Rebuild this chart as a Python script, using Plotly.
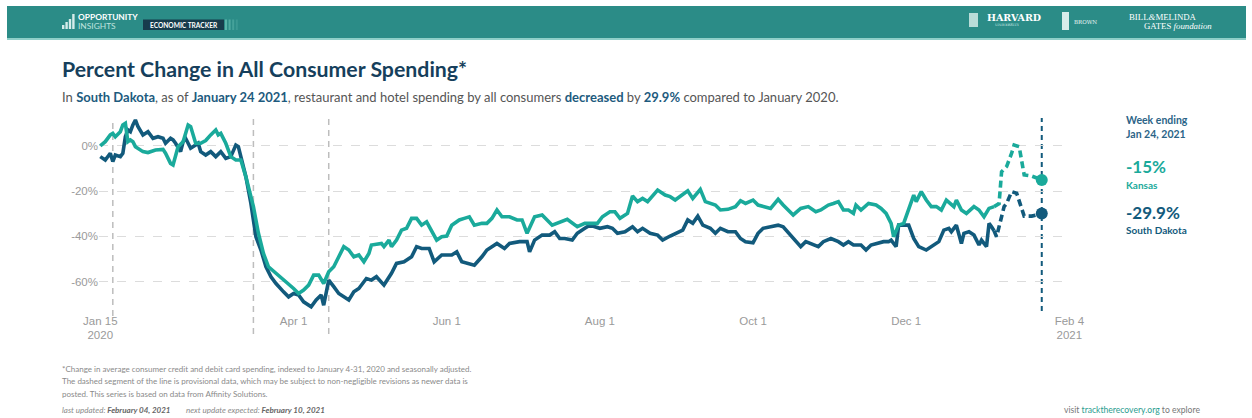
import pandas as pd
import plotly.graph_objects as go

# ---------------- data ----------------
BASE = pd.Timestamp("2020-01-15")

kansas_days = [
    0, 2, 4, 5, 6, 8, 9, 10, 11, 12,
    13, 14, 17, 19, 22, 25, 26, 28, 29, 31,
    33, 35, 36, 38, 40, 42, 44, 46, 47, 48,
    50, 52, 54, 56, 58, 61, 63, 65, 67, 70,
    73, 75, 77, 79, 81, 83, 85, 87, 89, 91,
    93, 95, 97, 99, 101, 103, 105, 107, 108, 112,
    113, 115, 116, 118, 120, 122, 124, 126, 128, 130,
    134, 136, 138, 140, 143, 145, 147, 149, 152, 154,
    156, 158, 160, 163, 166, 168, 170, 173, 176, 180,
    182, 186, 190, 193, 195, 198, 200, 203, 205, 207,
    210, 212, 214, 216, 218, 222, 225, 227, 229, 231,
    234, 236, 239, 241, 243, 245, 247, 250, 253, 255,
    257, 260, 262, 265, 267, 270, 272, 276, 279, 282,
    285, 287, 290, 292, 294, 296, 298, 300, 301, 303,
    306, 309, 311, 313, 315, 316, 318, 320, 322, 324,
    325, 327, 329, 331, 333, 335, 337, 340, 341, 343,
    345, 348, 350, 352, 354, 356,
]
kansas_pct = [
    0.0, 1.9, 4.9, 5.6, 4.1, 6.3, 9.3, 10.0, 1.9, 2.7,
    1.9, -0.3, -2.5, -2.9, -1.8, -1.5, -3.2, -7.7, -8.4, -0.3,
    1.9, 9.3, 8.6, 1.2, 1.2, 2.4, 4.9, 7.1, 4.9, 5.6,
    1.2, -4.7, -6.2, -6.2, -13.6, -26.8, -38.6, -47.5, -53.4, -56.3,
    -59.3, -60.8, -63.0, -65.2, -63.7, -61.5, -57.1, -57.1, -60.8, -55.6,
    -53.4, -49.0, -44.5, -46.0, -49.0, -48.2, -51.2, -47.5, -43.8, -43.1,
    -44.5, -41.6, -44.5, -41.6, -37.2, -36.4, -32.0, -32.0, -35.0, -33.5,
    -41.6, -40.1, -39.8, -35.0, -32.7, -32.0, -31.3, -35.0, -34.2, -34.2,
    -32.0, -28.3, -31.3, -31.3, -32.7, -32.7, -38.6, -31.3, -30.5, -35.0,
    -34.2, -32.4, -35.7, -34.2, -34.2, -34.2, -31.3, -29.1, -29.1, -32.0,
    -29.8, -22.1, -24.6, -23.2, -24.6, -19.5, -21.7, -22.4, -23.9, -22.4,
    -19.8, -23.2, -19.2, -24.6, -25.4, -26.1, -28.3, -28.0, -26.8, -24.2,
    -25.4, -23.9, -26.1, -26.8, -27.6, -23.6, -26.1, -30.5, -27.6, -26.8,
    -29.1, -28.3, -26.1, -25.4, -24.6, -28.3, -28.3, -29.8, -26.1, -28.3,
    -25.4, -26.1, -27.6, -29.8, -34.2, -40.1, -35.0, -34.2, -28.3, -21.7,
    -24.6, -20.2, -23.9, -26.8, -26.8, -28.3, -23.9, -26.8, -23.9, -28.3,
    -29.8, -26.8, -28.3, -31.3, -27.6, -26.8,
]
kansas_prov_days = [356, 358, 359, 361, 363, 364, 366, 368, 371, 373, 375]
kansas_prov_pct = [-26.8, -25.5, -11.4, -9.1, -3.2, 0.4, -0.3, -12.8, -13.3, -14.3, -15.0]

sd_days = [
    0, 2, 4, 5, 6, 8, 9, 10, 11, 12,
    13, 14, 15, 17, 19, 21, 23, 25, 26, 28,
    29, 30, 32, 33, 34, 36, 38, 39, 40, 42,
    44, 46, 48, 50, 52, 54, 55, 56, 58, 60,
    61, 62, 64, 66, 68, 70, 73, 75, 77, 79,
    81, 84, 86, 88, 89, 91, 93, 95, 99, 101,
    103, 106, 108, 110, 113, 116, 118, 121, 124, 126,
    128, 131, 133, 136, 140, 142, 144, 146, 149, 152,
    154, 158, 161, 163, 167, 170, 171, 173, 176, 179,
    181, 183, 185, 188, 190, 193, 195, 197, 199, 202,
    204, 206, 209, 212, 214, 216, 219, 222, 224, 227,
    229, 232, 234, 236, 238, 240, 243, 245, 247, 250,
    253, 255, 257, 260, 262, 264, 267, 270, 272, 275,
    278, 279, 281, 284, 286, 288, 291, 294, 296, 298,
    300, 303, 305, 307, 309, 312, 314, 315, 317, 318,
    320, 322, 324, 326, 329, 331, 334, 336, 338, 339,
    341, 343, 344, 346, 348, 350, 351, 353, 354, 355,
    356,
]
sd_pct = [
    -4.7, -6.2, -3.2, -6.9, -4.0, -4.7, -3.2, 4.1, 7.1, 6.3,
    9.3, 11.5, 8.6, 4.9, 6.3, 3.4, 4.1, 3.4, 1.2, 3.4,
    2.7, 1.2, -2.5, 1.9, 3.4, -1.0, 0.4, 1.2, -2.5, -4.0,
    -2.5, -4.7, -2.5, -5.5, -4.7, 0.4, -0.3, -4.7, -13.6, -25.4,
    -34.2, -40.1, -46.0, -53.4, -57.8, -60.8, -64.5, -66.7, -65.2, -65.9,
    -68.9, -71.1, -68.1, -65.9, -70.4, -59.3, -62.2, -65.2, -68.1, -64.5,
    -63.0, -58.6, -59.3, -57.8, -61.5, -56.3, -51.9, -51.2, -49.0, -44.5,
    -45.3, -45.3, -51.2, -48.2, -48.2, -46.8, -51.2, -51.9, -52.7, -49.0,
    -46.0, -43.1, -45.3, -43.1, -42.3, -42.3, -46.8, -41.6, -39.4, -39.4,
    -37.9, -40.9, -40.9, -41.6, -38.6, -36.4, -35.0, -35.7, -36.4, -35.7,
    -36.4, -38.6, -37.9, -35.7, -37.9, -36.4, -38.6, -39.4, -41.6, -39.8,
    -38.6, -37.2, -32.7, -34.2, -31.0, -35.0, -36.4, -38.6, -36.4, -37.9,
    -37.9, -40.9, -42.3, -42.8, -38.6, -36.4, -35.7, -35.0, -35.7, -39.4,
    -43.1, -44.5, -42.3, -43.8, -44.5, -42.3, -40.9, -42.3, -43.8, -42.3,
    -43.8, -43.8, -46.0, -43.8, -43.1, -42.3, -42.3, -41.6, -44.5, -35.0,
    -35.0, -35.0, -40.9, -44.5, -46.0, -44.5, -42.3, -37.2, -36.4, -37.9,
    -35.0, -43.1, -38.6, -37.9, -39.4, -43.8, -41.6, -44.5, -34.2, -35.7,
    -37.5,
]
sd_prov_days = [356, 357, 359, 360, 361, 363, 365, 367, 368, 371, 375]
sd_prov_pct = [-37.5, -40.1, -31.3, -26.8, -25.4, -20.2, -20.9, -28.3, -31.0, -31.0, -29.9]

event_dates = ["2020-01-20", "2020-03-16", "2020-04-15"]
latest_date = "2021-01-24"
latest_kansas = -15.0
latest_sd = -29.9

tick_dates = ["2020-01-15", "2020-04-01", "2020-06-01", "2020-08-01",
              "2020-10-01", "2020-12-01", "2021-02-04"]
tick_labels = ["Jan 15<br>2020", "Apr 1", "Jun 1", "Aug 1", "Oct 1", "Dec 1", "Feb 4<br>2021"]
y_ticks = [0, -20, -40, -60]
y_tick_labels = ["0%", "-20%", "-40%", "-60%"]

# ---------------- style ----------------
TEAL = "#1aaa9b"
DARK = "#125a7c"
HEADER = "#2b8c87"
FONT = "Lato"

W, H = 1252, 418
X0, X1 = 99, 1070
Y0, Y1 = 115, 312


def pxx(x):
    return (x - X0) / (X1 - X0)


def pyy(y):
    return (Y1 - y) / (Y1 - Y0)


def to_dates(days):
    return [BASE + pd.Timedelta(days=d) for d in days]


fig = go.Figure()

line_w = 3.6
fig.add_trace(go.Scatter(x=to_dates(sd_days), y=sd_pct, mode="lines",
                         line=dict(color=DARK, width=line_w), hoverinfo="skip"))
fig.add_trace(go.Scatter(x=to_dates(sd_prov_days), y=sd_prov_pct, mode="lines",
                         line=dict(color=DARK, width=line_w, dash="7px,4px"), hoverinfo="skip"))
fig.add_trace(go.Scatter(x=to_dates(kansas_days), y=kansas_pct, mode="lines",
                         line=dict(color=TEAL, width=line_w), hoverinfo="skip"))
fig.add_trace(go.Scatter(x=to_dates(kansas_prov_days), y=kansas_prov_pct, mode="lines",
                         line=dict(color=TEAL, width=line_w, dash="7px,4px"), hoverinfo="skip"))
fig.add_trace(go.Scatter(x=[latest_date], y=[latest_kansas], mode="markers",
                         marker=dict(color=TEAL, size=12), hoverinfo="skip"))
fig.add_trace(go.Scatter(x=[latest_date], y=[latest_sd], mode="markers",
                         marker=dict(color=DARK, size=12), hoverinfo="skip"))

shapes = []
event_bottoms = [316, 334, 334]
for d, yb in zip(event_dates, event_bottoms):
    shapes.append(dict(type="line", xref="x", yref="paper", x0=d, x1=d,
                       y0=pyy(yb), y1=pyy(118),
                       line=dict(color="#bdbdbd", width=1.5, dash="6px,5px"), layer="below"))
shapes.append(dict(type="line", xref="x", yref="paper", x0=latest_date, x1=latest_date,
                   y0=pyy(311), y1=pyy(118),
                   line=dict(color=DARK, width=2, dash="5px,4px"), layer="below"))

# header band
shapes.append(dict(type="rect", xref="paper", yref="paper", x0=pxx(7), x1=pxx(1246),
                   y0=pyy(38), y1=pyy(6), fillcolor=HEADER, line=dict(width=0), layer="below"))
shapes.append(dict(type="rect", xref="paper", yref="paper", x0=pxx(7), x1=pxx(1246),
                   y0=pyy(40), y1=pyy(38), fillcolor="#8fcfc8", line=dict(width=0), layer="below"))
# Opportunity Insights icon
for i, top in enumerate([25, 22, 19, 14]):
    xl = 62 + i * 3.4
    shapes.append(dict(type="rect", xref="paper", yref="paper", x0=pxx(xl), x1=pxx(xl + 2.4),
                       y0=pyy(29), y1=pyy(top), fillcolor="#d5ecea", line=dict(width=0)))
# Economic tracker box
shapes.append(dict(type="rect", xref="paper", yref="paper", x0=pxx(143), x1=pxx(224),
                   y0=pyy(30), y1=pyy(19.5), fillcolor="#173c4c", line=dict(width=0)))
for i in range(4):
    xl = 225 + i * 3.6
    shapes.append(dict(type="rect", xref="paper", yref="paper", x0=pxx(xl), x1=pxx(xl + 2),
                       y0=pyy(30), y1=pyy(19.5), fillcolor="#5fb8ae",
                       opacity=0.9 - i * 0.2, line=dict(width=0)))
# Harvard shield & Brown icon
shapes.append(dict(type="rect", xref="paper", yref="paper", x0=pxx(969), x1=pxx(978),
                   y0=pyy(27), y1=pyy(13), fillcolor="#b9dcd8", line=dict(width=0)))
shapes.append(dict(type="rect", xref="paper", yref="paper", x0=pxx(1062), x1=pxx(1069),
                   y0=pyy(30), y1=pyy(12), fillcolor="#d7ecea", line=dict(width=0)))

ann = []


def text(x, y, s, size, color, anchor="left", family=FONT, **kw):
    ann.append(dict(xref="paper", yref="paper", x=pxx(x), y=pyy(y), text=s,
                    showarrow=False, xanchor=anchor, yanchor="middle",
                    font=dict(size=size, color=color, family=family), **kw))


# header texts
text(76, 16.5, "<b>OPPORTUNITY</b>", 8.4, "white")
text(76, 25.5, "INSIGHTS", 8.4, "#bfe3df")
text(183.5, 25, "<b>ECONOMIC TRACKER</b>", 6.6, "white", anchor="center")
text(985, 17.5, "<b>HARVARD</b>", 9.5, "white", family="DejaVu Serif")
text(1007, 25, "UNIVERSITY", 3.6, "#d8ecea", anchor="center", family="DejaVu Serif")
text(1072, 21.5, "BROWN", 5.5, "#e8f4f3", family="DejaVu Serif")
text(1127, 17, "BILL<i>&amp;</i>MELINDA", 8.8, "white", family="Liberation Serif")
text(1142, 26, "GATES <i>foundation</i>", 8.8, "white", family="Liberation Serif")

# title & subtitle
text(60, 69, "<b>Percent Change in All Consumer Spending*</b>", 21.3, "#163f5c")
B = "<b><span style='color:#1d5b7e'>%s</span></b>"
sub = ("In " + B % "South Dakota" + ", as of " + B % "January 24 2021" +
       ", restaurant and hotel spending by all consumers " + B % "decreased" +
       " by " + B % "29.9%" + " compared to January 2020.")
text(60, 97, sub, 13.0, "#555555")

# right panel
text(1124, 120, "<b>Week ending</b>", 10.5, "#2b6487")
text(1124, 134, "<b>Jan 24, 2021</b>", 10.5, "#2b6487")
text(1124, 166, "<b>-15%</b>", 17, TEAL)
text(1124, 184.5, "<b>Kansas</b>", 10, TEAL)
text(1124, 212, "<b>-29.9%</b>", 17, DARK)
text(1124, 230, "<b>South Dakota</b>", 10, DARK)

# footnotes
FOOT = "#8a8a8a"
text(60, 368.5, "*Change in average consumer credit and debit card spending, indexed to January 4-31, 2020 and seasonally adjusted.", 8.0, FOOT)
text(60, 381, "The dashed segment of the line is provisional data, which may be subject to non-negligible revisions as newer data is", 8.0, FOOT)
text(60, 393.5, "posted. This series is based on data from Affinity Solutions.", 8.0, FOOT)
text(60, 410, "<i>last updated: <b><span style='color:#666'>February 04, 2021</span></b></i>", 8.0, FOOT)
text(184, 410, "<i>next update expected: <b><span style='color:#666'>February 10, 2021</span></b></i>", 8.0, FOOT)
text(1202, 410, "visit <span style='color:#2a9d8f'>tracktherecovery.org</span> to explore", 8.6, "#777777", anchor="right")

fig.update_layout(
    width=W, height=H,
    margin=dict(l=X0, r=W - X1, t=Y0, b=H - Y1, pad=0),
    paper_bgcolor="white", plot_bgcolor="white",
    showlegend=False, hovermode=False,
    shapes=shapes, annotations=ann,
    font=dict(family=FONT),
    xaxis=dict(
        type="date",
        range=["2020-01-14 12:00", "2021-02-04 06:00"],
        tickvals=tick_dates, ticktext=tick_labels,
        showgrid=False, zeroline=False, showline=False, ticks="",
        tickfont=dict(family="Liberation Sans", size=11.5, color="#9a9a9a"),
        fixedrange=True,
    ),
    yaxis=dict(
        range=[-73.4, 13.7],
        tickvals=y_ticks, ticktext=y_tick_labels,
        showgrid=True, gridcolor="#dcdcdc", griddash="dash", gridwidth=1,
        zeroline=False, showline=False, ticks="",
        tickfont=dict(family="Liberation Sans", size=11.5, color="#9a9a9a"),
        fixedrange=True,
    ),
)

fig.write_html("out.html", config=dict(displayModeBar=False))
